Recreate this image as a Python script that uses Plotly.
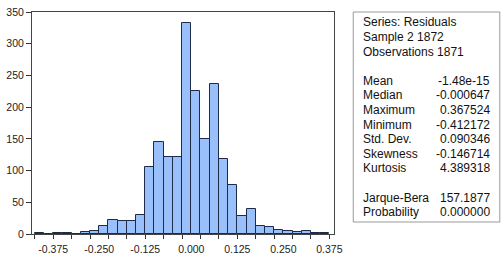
import plotly.graph_objects as go

# ---- data ----
bin_width = 0.025
bin_start = -0.425
counts = [1, 0, 2, 2, 0, 3, 4, 13, 22, 21, 21, 30, 106, 145, 122, 122,
          332, 226, 149, 236, 118, 78, 28, 39, 13, 11, 7, 4, 3, 5, 2, 1]
bin_centers = [bin_start + bin_width * (i + 0.5) for i in range(len(counts))]

x_label_vals = [-0.375, -0.25, -0.125, 0.0, 0.125, 0.25, 0.375]
x_label_text = ["-0.375", "-0.250", "-0.125", "0.000", "0.125", "0.250", "0.375"]
x_tick_vals = [round(-0.425 + 0.05 * k, 3) for k in range(17)]
y_tick_vals = [0, 50, 100, 150, 200, 250, 300, 350]

stat_header = ["Series: Residuals", "Sample 2 1872", "Observations 1871"]
stat_names = ["Mean", "Median", "Maximum", "Minimum", "Std. Dev.", "Skewness", "Kurtosis"]
stat_values = ["-1.48e-15", "-0.000647", "0.367524", "-0.412172", "0.090346", "-0.146714", "4.389318"]
test_names = ["Jarque-Bera", "Probability"]
test_values = ["157.1877", "0.000000"]

FONT = "Liberation Sans, Arial, sans-serif"
W, H = 504, 255
ML, MR, MT, MB = 28, 170, 6, 21
PW, PH = W - ML - MR, H - MT - MB
XR = [-0.4325, 0.3875]

fig = go.Figure()
fig.add_trace(go.Bar(
    x=bin_centers, y=counts, width=bin_width,
    marker=dict(color="#9ac0fb", line=dict(color="#1e2b48", width=1)),
    showlegend=False, hoverinfo="skip"))
# invisible trace on label axis
fig.add_trace(go.Scatter(x=[XR[0]], y=[0], xaxis="x2", mode="markers",
                         marker=dict(opacity=0), showlegend=False, hoverinfo="skip"))

def px_x(px):
    return (px - ML) / PW

def px_y(py):
    return (H - MB - py) / PH

annotations = []
row_y0 = 16.7
row_dy = 15.0
rows = []
rows += [(h, None) for h in stat_header]
rows.append((None, None))
rows += list(zip(stat_names, stat_values))
rows.append((None, None))
rows += list(zip(test_names, test_values))
for i, (name, val) in enumerate(rows):
    yy = px_y(row_y0 + i * row_dy)
    if name is not None:
        annotations.append(dict(x=px_x(361.5), y=yy, xref="paper", yref="paper",
                                text=name, showarrow=False, xanchor="left", yanchor="middle",
                                font=dict(family=FONT, size=12, color="#111")))
    if val is not None:
        annotations.append(dict(x=px_x(494), y=yy, xref="paper", yref="paper",
                                text=val, showarrow=False, xanchor="right", yanchor="middle",
                                font=dict(family=FONT, size=12, color="#111")))

fig.update_layout(
    width=W, height=H,
    margin=dict(l=ML, r=MR, t=MT, b=MB, pad=0),
    paper_bgcolor="white", plot_bgcolor="white",
    bargap=0,
    font=dict(family=FONT, size=10.5, color="#222"),
    xaxis=dict(range=XR, tickvals=x_tick_vals, showticklabels=False,
               ticks="outside", ticklen=4, tickcolor="#333",
               showline=True, linecolor="#444", linewidth=1, mirror=True,
               showgrid=False, zeroline=False, fixedrange=True),
    xaxis2=dict(range=XR, overlaying="x", anchor="y", side="bottom",
                tickvals=x_label_vals, ticktext=x_label_text, ticks="",
                ticklabelstandoff=7, automargin=False,
                showline=False, showgrid=False, zeroline=False,
                tickfont=dict(family=FONT, size=10.5, color="#222")),
    yaxis=dict(range=[0, 350], tickvals=y_tick_vals, ticks="outside", ticklen=5,
               tickcolor="#333", showline=True, linecolor="#444", linewidth=1,
               mirror=True, showgrid=False, zeroline=False,
               tickfont=dict(family=FONT, size=10.5, color="#222")),
    shapes=[dict(type="rect", xref="paper", yref="paper",
                 x0=px_x(353.5), x1=px_x(502), y0=px_y(221.7), y1=px_y(MT),
                 line=dict(color="#9a9a9a", width=1), fillcolor="rgba(0,0,0,0)")],
    annotations=annotations,
)

fig.write_html("out.html")
